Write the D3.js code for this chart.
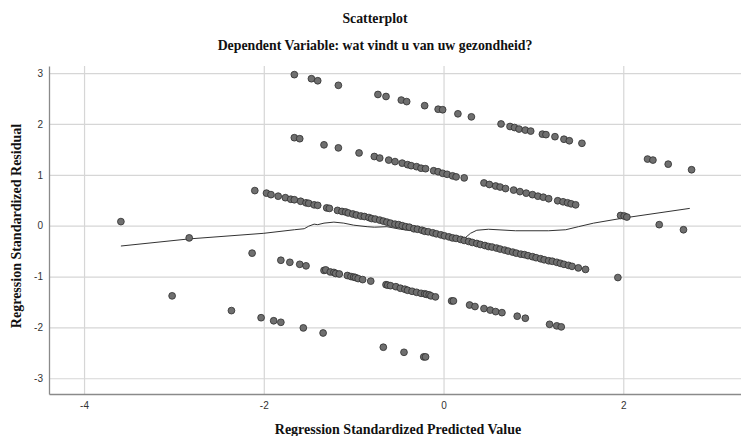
<!DOCTYPE html>
<html>
<head>
<meta charset="utf-8">
<script src="https://cdn.jsdelivr.net/npm/d3@7/dist/d3.min.js"></script>
<style>
  html, body { margin: 0; padding: 0; background: #fff; }
  svg { display: block; }
</style>
</head>
<body>
<svg id="chart" width="741" height="436"></svg>
<script>
// ---- Data ----
const title = "Scatterplot";
const subtitle = "Dependent Variable: wat vindt u van uw gezondheid?";
const xLabel = "Regression Standardized Predicted Value";
const yLabel = "Regression Standardized Residual";
const xTicks = [-4, -2, 0, 2];
const yTicks = [-3, -2, -1, 0, 1, 2, 3];

// band 1 (top)
const bandA = [
  [-1.66,2.97],[-1.47,2.89],[-1.40,2.85],[-1.17,2.76],[-0.73,2.58],[-0.64,2.54],
  [-0.47,2.47],[-0.41,2.44],[-0.21,2.36],[-0.06,2.29],[-0.01,2.28],[0.16,2.20],
  [0.31,2.14],[0.64,2.00],[0.74,1.95],[0.79,1.93],[0.84,1.90],[0.91,1.88],
  [0.97,1.86],[1.10,1.80],[1.14,1.79],[1.24,1.75],[1.34,1.70],[1.40,1.67],[1.54,1.62]
];
// band 2
const bandB = [
  [-1.66,1.73],[-1.60,1.71],[-1.33,1.59],[-1.17,1.53],[-0.94,1.43],[-0.77,1.36],
  [-0.71,1.33],[-0.61,1.29],[-0.54,1.26],[-0.46,1.23],[-0.40,1.20],[-0.36,1.18],
  [-0.30,1.16],[-0.25,1.13],[-0.20,1.12],[-0.11,1.08],[-0.06,1.06],[-0.01,1.03],
  [0.04,1.01],[0.10,0.98],[0.14,0.96],[0.23,0.94],[0.45,0.84],[0.51,0.81],
  [0.58,0.78],[0.63,0.76],[0.69,0.73],[0.78,0.70],[0.85,0.67],[0.92,0.64],
  [0.99,0.61],[1.05,0.58],[1.11,0.56],[1.17,0.53],[1.27,0.49],[1.33,0.47],
  [1.38,0.45],[1.42,0.43],[1.47,0.41]
];
// band 3 (dense middle band)
const bandC = [
  [-2.10,0.69],[-1.97,0.64],[-1.92,0.61],[-1.84,0.58],[-1.76,0.55],[-1.70,0.52],
  [-1.66,0.51],[-1.59,0.48],[-1.53,0.45],[-1.50,0.44],[-1.44,0.41],[-1.40,0.40],
  [-1.30,0.35],[-1.27,0.34],[-1.18,0.30],[-1.13,0.28],[-1.09,0.27],[-1.06,0.25],
  [-1.01,0.23],[-0.97,0.21],[-0.92,0.19],[-0.88,0.18],[-0.83,0.16],[-0.80,0.14],
  [-0.76,0.13],[-0.71,0.11],[-0.67,0.09],[-0.63,0.07],[-0.59,0.05],[-0.54,0.03],
  [-0.50,0.02],[-0.46,0.00],[-0.42,-0.02],[-0.38,-0.03],[-0.33,-0.06],[-0.29,-0.07],
  [-0.24,-0.09],[-0.21,-0.11],[-0.17,-0.12],[-0.12,-0.14],[-0.08,-0.16],[-0.03,-0.18],
  [0.01,-0.20],[0.06,-0.22],[0.10,-0.24],[0.14,-0.25],[0.19,-0.27],[0.23,-0.29],
  [0.28,-0.31],[0.32,-0.33],[0.37,-0.35],[0.41,-0.37],[0.46,-0.39],[0.50,-0.41],
  [0.54,-0.42],[0.59,-0.44],[0.63,-0.46],[0.68,-0.48],[0.72,-0.50],[0.77,-0.52],
  [0.81,-0.54],[0.86,-0.56],[0.90,-0.57],[0.94,-0.59],[0.99,-0.61],[1.03,-0.63],
  [1.08,-0.65],[1.12,-0.67],[1.17,-0.69],[1.21,-0.70],[1.26,-0.72],[1.30,-0.74],
  [1.34,-0.76],[1.39,-0.78],[1.43,-0.80],[1.50,-0.83],[1.58,-0.86]
];
// band 4
const bandD = [
  [-1.81,-0.68],[-1.71,-0.72],[-1.60,-0.76],[-1.53,-0.79],[-1.33,-0.88],[-1.31,-0.87],
  [-1.26,-0.91],[-1.22,-0.92],[-1.20,-0.94],[-1.16,-0.95],[-1.07,-0.98],[-1.03,-1.00],
  [-1.00,-1.01],[-0.98,-1.02],[-0.95,-1.04],[-0.90,-1.06],[-0.81,-1.09],[-0.64,-1.16],
  [-0.62,-1.17],[-0.59,-1.18],[-0.53,-1.20],[-0.48,-1.23],[-0.43,-1.25],[-0.40,-1.27],
  [-0.35,-1.29],[-0.30,-1.31],[-0.25,-1.33],[-0.21,-1.34],[-0.19,-1.35],[-0.16,-1.36],
  [-0.14,-1.38],[-0.09,-1.40],[0.09,-1.48],[0.11,-1.48],[0.29,-1.56],[0.35,-1.59],
  [0.45,-1.63],[0.52,-1.66],[0.58,-1.69],[0.65,-1.71],[0.82,-1.78],[0.91,-1.82],
  [1.18,-1.94],[1.26,-1.97],[1.31,-1.99]
];
// band 5 (bottom)
const bandE = [
  [-3.02,-1.38],[-2.36,-1.67],[-2.03,-1.81],[-1.89,-1.87],[-1.81,-1.90],[-1.56,-2.01],
  [-1.34,-2.11],[-0.67,-2.39],[-0.44,-2.49],[-0.22,-2.58],[-0.20,-2.58]
];
// isolated points
const others = [
  [-3.59,0.08],[-2.83,-0.24],[-2.13,-0.54],
  [2.27,1.31],[2.33,1.29],[2.50,1.21],[2.76,1.10],
  [1.97,0.20],[2.01,0.19],[2.04,0.17],[2.40,0.02],[2.67,-0.08],[1.94,-1.02]
];
// fit line (loess) through the residuals
const fitLine = [
  [-3.59,-0.40],[-2.83,-0.26],[-2.00,-0.15],[-1.66,-0.08],[-1.55,-0.06],[-1.50,-0.01],
  [-1.44,0.03],[-1.40,0.02],[-1.33,0.05],[-1.22,0.07],[-1.11,0.05],[-1.00,0.01],
  [-0.85,-0.02],[-0.77,-0.03],[-0.63,-0.02],[-0.48,-0.07],[-0.26,-0.12],[-0.03,-0.18],
  [0.21,-0.24],[0.24,-0.24],[0.30,-0.15],[0.37,-0.09],[0.50,-0.07],[0.80,-0.10],
  [1.17,-0.10],[1.36,-0.08],[1.50,-0.02],[1.67,0.05],[2.00,0.15],[2.74,0.34]
];

// ---- Layout ----
const svg = d3.select("#chart");
const plotL = 49, plotR = 741, plotT = 66, plotB = 394;

const x = d3.scaleLinear().domain([-4.39, 3.31]).range([plotL, plotR]);
const y = d3.scaleLinear().domain([-3.31, 3.14]).range([plotB, plotT]);

// gridlines
svg.append("g")
  .attr("transform", `translate(0,${plotB})`)
  .call(d3.axisBottom(x).tickValues(xTicks).tickSize(-(plotB - plotT)).tickFormat(""))
  .call(g => g.select(".domain").remove())
  .call(g => g.selectAll("line").attr("stroke", "#d6d6d6").attr("stroke-width", 1.2));
svg.append("g")
  .attr("transform", `translate(${plotL},0)`)
  .call(d3.axisLeft(y).tickValues(yTicks).tickSize(-(plotR - plotL)).tickFormat(""))
  .call(g => g.select(".domain").remove())
  .call(g => g.selectAll("line").attr("stroke", "#d6d6d6").attr("stroke-width", 1.2));

// axes
const xAxis = svg.append("g")
  .attr("transform", `translate(0,${plotB})`)
  .call(d3.axisBottom(x).tickValues(xTicks).tickSize(0).tickSizeOuter(0).tickPadding(8).tickFormat(d3.format("d")));
const yAxis = svg.append("g")
  .attr("transform", `translate(${plotL},0)`)
  .call(d3.axisLeft(y).tickValues(yTicks).tickSize(0).tickSizeOuter(0).tickPadding(6).tickFormat(d3.format("d")));
[xAxis, yAxis].forEach(a => {
  a.select(".domain").attr("stroke", "#8a8a8a").attr("stroke-width", 1.3);
  a.selectAll("text").attr("font-family", "'Liberation Sans', Arial, sans-serif")
    .attr("font-size", 10).attr("fill", "#333");
});
yAxis.selectAll("text").text(d => d < 0 ? "-" + Math.abs(d) : d);
xAxis.selectAll("text").text(d => d < 0 ? "-" + Math.abs(d) : d);

// fit line
const line = d3.line().x(d => x(d[0])).y(d => y(d[1])).curve(d3.curveLinear);
svg.append("path")
  .datum(fitLine)
  .attr("d", line)
  .attr("fill", "none")
  .attr("stroke", "#333")
  .attr("stroke-width", 1);

// points
const allPoints = [].concat(bandA, bandB, bandC, bandD, bandE, others);
svg.append("g").selectAll("circle")
  .data(allPoints)
  .join("circle")
  .attr("cx", d => x(d[0]))
  .attr("cy", d => y(d[1]))
  .attr("r", 3.4)
  .attr("fill", "#6f6f6f")
  .attr("stroke", "#2e2e2e")
  .attr("stroke-width", 0.8);

// titles
const serif = "'Liberation Serif', 'Times New Roman', serif";
svg.append("text").attr("x", 375).attr("y", 23).attr("text-anchor", "middle")
  .attr("font-family", serif).attr("font-weight", "bold").attr("font-size", 13.8)
  .attr("fill", "#111").text(title);
svg.append("text").attr("x", 375).attr("y", 50).attr("text-anchor", "middle")
  .attr("font-family", serif).attr("font-weight", "bold").attr("font-size", 13.8)
  .attr("fill", "#111").text(subtitle);
svg.append("text").attr("x", 398).attr("y", 434).attr("text-anchor", "middle")
  .attr("font-family", serif).attr("font-weight", "bold").attr("font-size", 14)
  .attr("fill", "#111").text(xLabel);
svg.append("text")
  .attr("transform", `translate(21,${(plotT + plotB) / 2 - 4}) rotate(-90)`)
  .attr("text-anchor", "middle")
  .attr("font-family", serif).attr("font-weight", "bold").attr("font-size", 14)
  .attr("fill", "#111").text(yLabel);
</script>
</body>
</html>
